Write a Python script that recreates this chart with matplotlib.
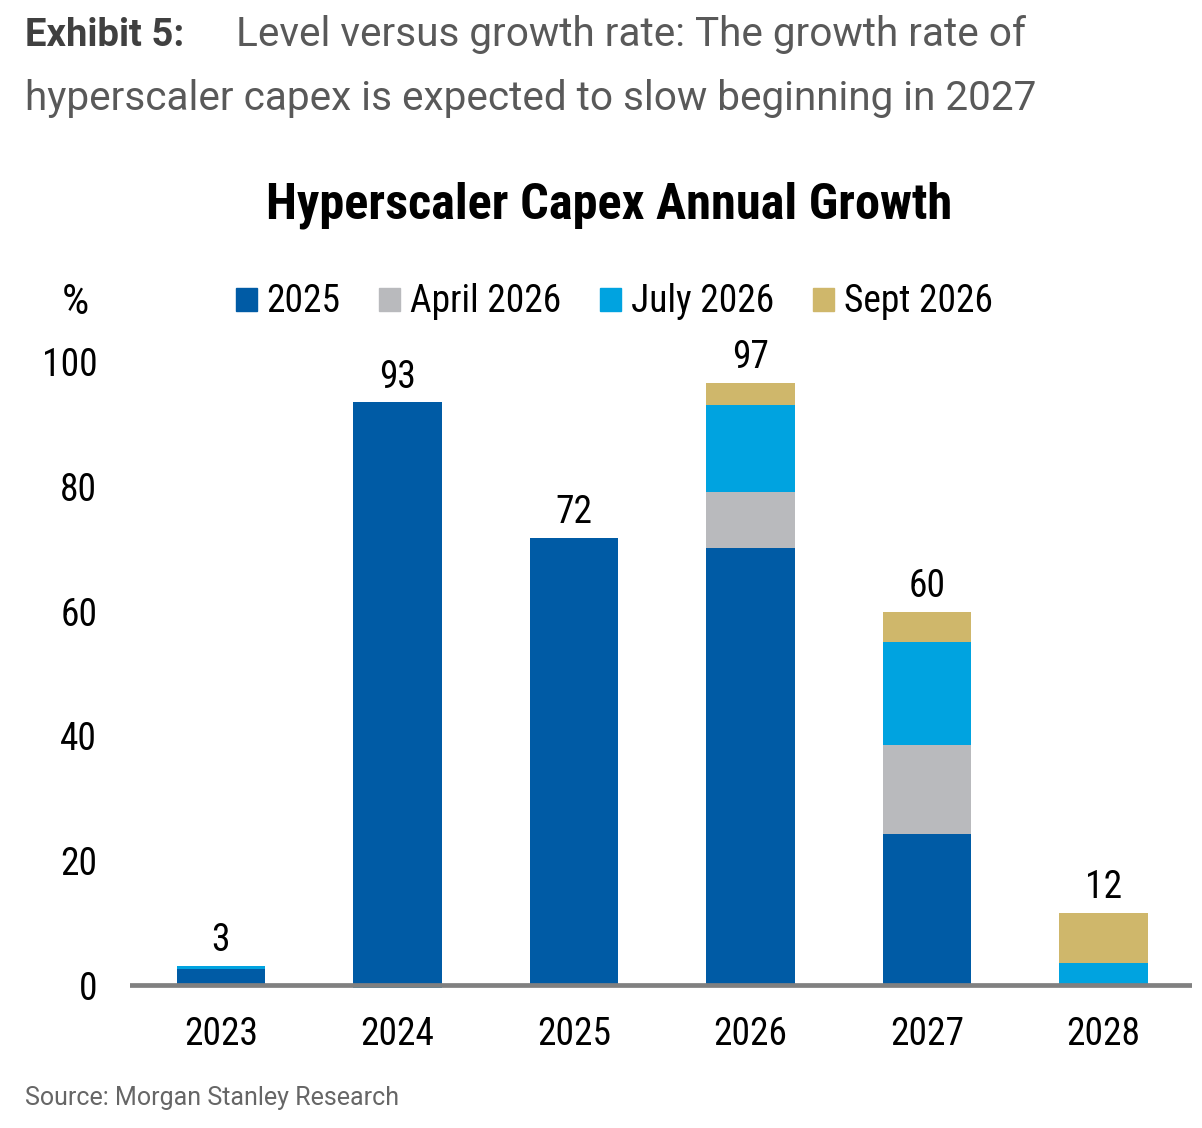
import numpy as np
import matplotlib
matplotlib.use("Agg")
import matplotlib.pyplot as plt
from matplotlib import font_manager
from matplotlib.patches import Patch

#Data:-------------------------------------------------------------------------

years = ["2023", "2024", "2025", "2026", "2027", "2028"]
series_names = ["2025", "April 2026", "July 2026", "Sept 2026"]
s_2025 = [2.5, 93.5, 71.8, 70.1, 24.2, 0.0]
s_apr26 = [0.0, 0.0, 0.0, 9.0, 14.4, 0.0]
s_jul26 = [0.5, -0.5, 0.0, 14.0, 16.5, 3.5]
s_sep26 = [0.0, 0.0, 0.0, 3.5, 4.7, 8.1]
totals = ["3", "93", "72", "97", "60", "12"]
yticks = [0, 20, 40, 60, 80, 100]

colors = ["#005BA5", "#B9BABD", "#00A3E0", "#CFB76B"]

#Fonts:------------------------------------------------------------------------

available = {f.name for f in font_manager.fontManager.ttflist}
narrow = "DejaVu Sans"
for name in ["Roboto Condensed", "Liberation Sans Narrow", "Roboto"]:
    if name in available:
        narrow = name
        break
plain = "Roboto" if "Roboto" in available else "DejaVu Sans"

#Figure:-----------------------------------------------------------------------

fig = plt.figure(figsize=(12.02, 11.28), dpi=100)
ax = fig.add_axes([0.108, 0.1157, 0.8835, 0.5855])

x = np.arange(len(years))
width = 0.5
bottom_pos = np.zeros(len(years))
bottom_neg = np.zeros(len(years))
for vals, c in zip([s_2025, s_apr26, s_jul26, s_sep26], colors):
    vals = np.array(vals)
    base = np.where(vals >= 0, bottom_pos, bottom_neg)
    ax.bar(x, vals, width, bottom=base, color=c, zorder=2)
    bottom_pos = bottom_pos + np.clip(vals, 0, None)
    bottom_neg = bottom_neg + np.clip(vals, None, 0)

for xi, top, lab in zip(x, bottom_pos, totals):
    ax.annotate(lab, (xi, top), xytext=(0, 5), textcoords="offset points",
                ha="center", va="bottom", fontsize=27, family=narrow)

ax.axhline(0, color="#808080", lw=3.4, zorder=3)

ax.set_xlim(-0.516, 5.5)
ax.set_ylim(-2, 104)
ax.set_xticks(x)
ax.set_xticklabels(years, family=narrow, fontsize=27)
ax.set_yticks(yticks)
ax.set_yticklabels([str(v) for v in yticks], family=narrow, fontsize=27)
ax.tick_params(axis="x", length=0, pad=13)
ax.tick_params(axis="y", length=0, pad=23.5)
for sp in ax.spines.values():
    sp.set_visible(False)

handles = [Patch(color=c) for c in colors]
leg = fig.legend(handles, series_names, loc="center", bbox_to_anchor=(0.511, 1 - 302 / 1128),
                 ncol=4, frameon=False, prop={"family": narrow, "size": 27},
                 handlelength=0.56, handleheight=0.56, handletextpad=0.25, columnspacing=1.05)

fig.text(75 / 1202, 1 - 303 / 1128, "%", ha="center", va="center", family=narrow, fontsize=31)

fig.text(0.507, 1 - 205 / 1128, "Hyperscaler Capex Annual Growth", ha="center", va="center",
         family=narrow, fontsize=36.3, fontweight="bold")

fig.text(25 / 1202, 1 - 46 / 1128, "Exhibit 5:", ha="left", va="baseline",
         family=plain, fontsize=27.5, fontweight="bold", color="#404040")
fig.text(236 / 1202, 1 - 46 / 1128, "Level versus growth rate: The growth rate of",
         ha="left", va="baseline", family=plain, fontsize=29.2, color="#595959")
fig.text(25 / 1202, 1 - 110 / 1128, "hyperscaler capex is expected to slow beginning in 2027",
         ha="left", va="baseline", family=plain, fontsize=29.2, color="#595959")
fig.text(25 / 1202, 1 - 1098 / 1128, "Source: Morgan Stanley Research", ha="left", va="center",
         family=plain, fontsize=18, color="#666666")

fig.savefig("out.png", dpi=100)
